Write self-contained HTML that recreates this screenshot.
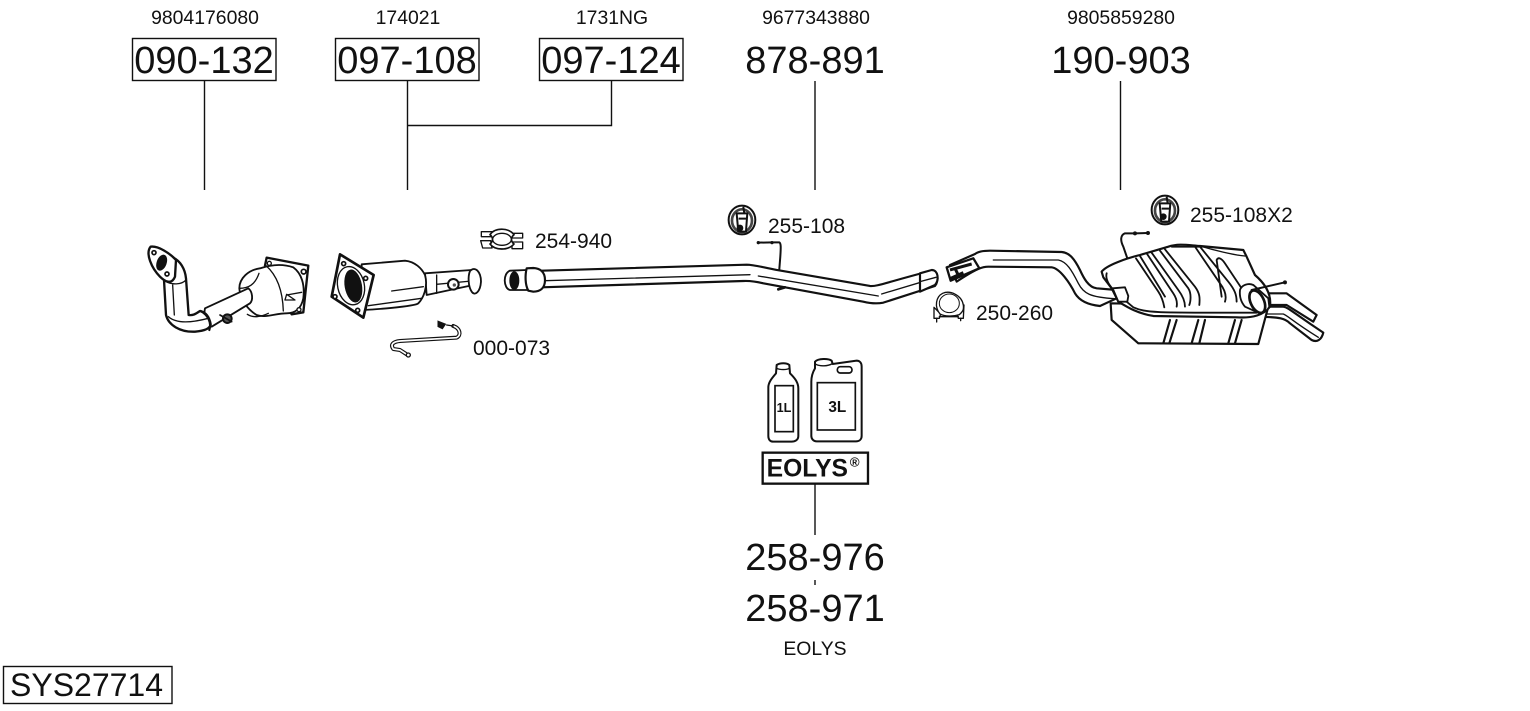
<!DOCTYPE html>
<html><head><meta charset="utf-8"><style>
html,body{margin:0;padding:0;background:#fff}
svg{display:block}
text{font-family:"Liberation Sans",sans-serif;fill:#111}
.b{font-size:38px;text-anchor:middle}
.s{font-size:19.4px;text-anchor:middle}
.m{font-size:21px}
.d{fill:none;stroke:#111;stroke-linecap:round;stroke-linejoin:round}
.f{fill:#fff;stroke:#111;stroke-linecap:round;stroke-linejoin:round}
</style></head><body>
<svg width="1530" height="711" viewBox="0 0 1530 711" xmlns="http://www.w3.org/2000/svg">
<rect width="1530" height="711" fill="#fff"/>
<g fill="none" stroke="#111" stroke-width="1.4">
<rect x="132.500" y="38.500" width="143.500" height="42"/>
<rect x="335.500" y="38.500" width="143.500" height="42"/>
<rect x="539.500" y="38.500" width="143.500" height="42"/>
<rect x="3.500" y="666.500" width="168.500" height="37"/>
<path d="M204.500 80V190M407.500 80V190M407.500 125.500H611.500V80M815 81V190M1120.500 81V190M815 484V535M815 580V585"/>
</g>
<text class="s" x="205" y="24">9804176080</text>
<text class="s" x="408" y="24">174021</text>
<text class="s" x="612" y="24">1731NG</text>
<text class="s" x="816" y="24">9677343880</text>
<text class="s" x="1121" y="24">9805859280</text>
<text class="b" x="204" y="73">090-132</text>
<text class="b" x="407" y="73">097-108</text>
<text class="b" x="611" y="73">097-124</text>
<text class="b" x="815" y="73">878-891</text>
<text class="b" x="1121" y="73">190-903</text>
<text class="b" x="815" y="570">258-976</text>
<text class="b" x="815" y="621">258-971</text>
<text class="s" x="815" y="655">EOLYS</text>
<text class="m" x="535" y="248">254-940</text>
<text class="m" x="768" y="233">255-108</text>
<text class="m" x="1190" y="222">255-108X2</text>
<text class="m" x="976" y="320">250-260</text>
<text class="m" x="473" y="355">000-073</text>
<text x="10" y="696" style="font-size:32px">SYS27714</text>

<!-- front pipe + cat 1 -->
<g transform="translate(140,235) scale(.3333)">
<path class="f" stroke-width="7" d="M375 92L380 68L505 92L490 232L455 238L400 130Z"/>
<path class="f" stroke-width="5.500" d="M360 100C325 105 298 130 298 160C300 195 325 225 350 240C375 250 405 235 440 235C470 235 485 215 490 190C495 150 485 115 460 97C425 85 390 90 360 100Z"/>
<path class="d" stroke-width="4" d="M378 92C410 120 428 165 430 228M298 160C325 160 345 150 357 115M440 180L485 172M435 195L465 195L440 178Z"/>
<path class="f" stroke-width="5.500" d="M195 220L325 160C338 170 340 195 330 205L215 275C200 265 190 240 195 220Z"/>
<path class="d" stroke-width="4" d="M322 238C340 250 365 245 385 235"/>
<path class="f" stroke-width="7" d="M72 135L78 240C85 270 120 292 165 290C190 288 210 282 212 268C208 245 198 232 180 228C165 238 158 242 146 240L138 130C135 100 120 78 100 68Z"/>
<path class="d" stroke-width="4" d="M85 245C110 268 160 262 205 250M98 150L103 240M75 138C95 150 125 150 138 135"/>
<path class="f" stroke-width="7" d="M32 35C55 32 90 55 108 75L105 125C95 150 75 140 60 125C35 100 15 55 32 35Z"/>
<ellipse cx="65" cy="83" rx="15" ry="25" transform="rotate(20 65 83)" fill="#111"/>
<circle cx="42" cy="53" r="6" fill="#fff" stroke="#111" stroke-width="5"/>
<circle cx="81" cy="117" r="6" fill="#fff" stroke="#111" stroke-width="5"/>
<circle cx="491" cy="110" r="7" fill="#fff" stroke="#111" stroke-width="5"/>
<circle cx="388" cy="85" r="6" fill="#fff" stroke="#111" stroke-width="4"/>
<circle cx="477" cy="224" r="6" fill="#fff" stroke="#111" stroke-width="4"/>
<path class="d" stroke-width="6.500" d="M182 228C205 240 215 265 208 285"/>
<circle cx="262" cy="251" r="13" fill="#555" stroke="#111" stroke-width="6"/>
<path class="d" stroke-width="5" d="M240 240L275 260"/>
</g>

<!-- cat 2 + sensor -->
<g transform="translate(325,245) scale(.3333)">
<path class="f" stroke-width="5.500" d="M300 85L440 75L445 120L305 150Z"/>
<path class="d" stroke-width="4" d="M335 90L335 145M335 118L440 108"/>
<path class="f" stroke-width="5.500" d="M435 78C450 62 468 80 468 110C466 140 450 155 440 140C430 125 428 95 435 78Z"/>
<circle cx="385" cy="118" r="16" fill="#fff" stroke="#111" stroke-width="6"/>
<circle cx="388" cy="120" r="5" fill="#555"/>
<path class="f" stroke-width="5.500" d="M110 58L240 47C270 50 290 70 300 90C310 125 295 160 280 175C270 185 130 195 110 195Z"/>
<path class="d" stroke-width="4" d="M130 182L290 160M200 138L295 125"/>
<path class="f" stroke-width="8" d="M45 28L146 90L115 218L20 155Z"/>
<ellipse cx="78" cy="122" rx="40" ry="58" transform="rotate(-12 78 122)" fill="#fff" stroke="#111" stroke-width="4"/>
<ellipse cx="85" cy="123" rx="26" ry="50" transform="rotate(-10 85 123)" fill="#111"/>
<circle cx="56" cy="56" r="6" fill="#fff" stroke="#111" stroke-width="5"/>
<circle cx="122" cy="100" r="6" fill="#fff" stroke="#111" stroke-width="5"/>
<circle cx="30" cy="155" r="6" fill="#fff" stroke="#111" stroke-width="5"/>
<circle cx="98" cy="196" r="6" fill="#fff" stroke="#111" stroke-width="5"/>
<path class="d" stroke-width="12" d="M245 328L225 315L205 312C195 298 205 290 225 288L395 278C410 270 405 250 385 243"/>
<path class="d" stroke-width="5" d="M245 328L225 315L205 312C195 298 205 290 225 288L395 278C410 270 405 250 385 243" style="stroke:#fff"/>
<path d="M340 230L360 238L352 250L340 244Z" fill="#111" stroke="#111" stroke-width="5"/>
<path class="d" stroke-width="4" d="M365 240L385 243"/>
<circle cx="250" cy="330" r="6" fill="#fff" stroke="#111" stroke-width="4"/>
</g>

<!-- mid pipe, clamps -->
<g transform="translate(470,200) scale(.3333)">
<path class="f" stroke-width="6.500" d="M215 212L830 194C850 194 870 200 920 210L1200 258C1220 260 1240 250 1380 213C1400 215 1408 245 1395 258L1240 308C1220 312 1200 310 1180 305L880 250C860 245 840 242 820 243L215 262Z"/>
<path class="d" stroke-width="4" d="M225 242L840 224M865 228L1225 288M1235 282L1392 235"/>
<path class="f" stroke-width="5.500" d="M120 212L170 210L175 270L120 270C100 265 98 220 120 212Z"/>
<ellipse cx="133" cy="242" rx="15" ry="28" fill="#111"/>
<path class="f" stroke-width="6.500" d="M170 205L190 204C210 205 225 215 225 240C225 265 210 275 190 275L175 272C165 255 165 225 170 205Z"/>
<path class="d" stroke-width="6" d="M864 128L908 127H928C933 130 933 140 931 170L928 208"/>
<circle cx="865" cy="128" r="5" fill="#111"/><circle cx="906" cy="128" r="5" fill="#111"/>
<path class="d" stroke-width="8" d="M925 268L945 262"/>
<!-- clamp 254-940 -->
<path class="f" stroke-width="4" d="M34 95H66L62 110H34ZM32 122H62L66 144H38ZM126 100H158V114H126ZM126 126H158V146H126Z"/>
<path d="M60 104C75 82 115 82 132 104C122 112 122 124 132 132C115 152 75 152 60 132C70 124 70 112 60 104Z" fill="#fff" stroke="#111" stroke-width="5" stroke-linejoin="round"/>
<ellipse cx="96" cy="118" rx="28" ry="18" fill="#fff" stroke="#111" stroke-width="4"/>
<!-- bracket 255-108 -->
<ellipse cx="816" cy="60" rx="40" ry="43" fill="#fff" stroke="#111" stroke-width="6"/>
<ellipse cx="816" cy="62" rx="30" ry="34" fill="none" stroke="#444" stroke-width="8"/>
<path class="f" stroke-width="6" d="M800 40L805 95H828L832 40Z"/>
<circle cx="810" cy="84" r="10" fill="#111"/>
<path d="M820 20l3 20M806 56h22" stroke="#111" stroke-width="6" fill="none"/>
</g>

<!-- muffler group -->
<g transform="translate(920,190) scale(.3333)">
<path class="f" stroke-width="6.500" d="M0 250L35 240C55 240 58 270 45 285L0 305Z"/>
<path class="d" stroke-width="4" d="M0 275L48 262"/>
<path class="f" stroke-width="6.500" d="M1045 310L1100 310L1190 375L1180 395L1100 345L1045 345Z"/>
<path class="f" stroke-width="6.500" d="M1020 350L1090 350C1105 352 1115 365 1210 428C1205 450 1190 458 1175 450L1110 400C1095 385 1080 382 1020 380Z"/>
<path class="d" stroke-width="4" d="M1040 372L1090 372C1105 378 1115 392 1195 442"/>
<path class="f" stroke-width="6.500" d="M90 225L165 192C175 184 190 182 210 182L425 186C450 188 465 210 480 240C490 262 505 292 530 295L590 300L590 325L540 348C510 345 480 335 465 310C450 280 420 235 395 232L205 230C190 230 175 232 110 275Z"/>
<path class="d" stroke-width="4" d="M220 210L415 210C440 215 455 240 475 280C490 310 510 322 585 326"/>
<path d="M80 232L160 205L178 235L92 272Z" fill="#fff" stroke="#111" stroke-width="7" stroke-linejoin="round"/>
<path d="M90 240L155 222M105 235L118 262M92 265L130 248" stroke="#111" stroke-width="9" fill="none"/>
<path class="f" stroke-width="6.500" d="M572 340L575 390L655 460L1015 462L1045 350Z"/>
<path class="d" stroke-width="6.500" d="M750 390L730 460M770 390L748 460M835 390L815 460M855 390L838 460M945 390L925 460M965 390L945 460"/>
<path class="f" stroke-width="6.500" d="M550 262L545 245C560 225 620 205 660 195L745 170C775 160 800 165 840 168L970 180L980 200L1005 255C1040 285 1055 315 1050 350C1030 375 1000 385 950 382L700 378C650 370 620 350 595 335L575 295Z"/>
<path class="d" stroke-width="5.500" d="M560 250C555 270 570 290 590 310L640 352C680 370 720 368 1010 368"/>
<path class="f" stroke-width="5.500" d="M578 295L615 292L625 318L622 335L595 335Z"/>
<path class="d" stroke-width="5.500" d="M648 205L715 305C725 320 730 335 733 352M660 198L735 320M680 190L760 310C770 325 772 340 770 350M695 188L775 300C790 320 795 335 795 350M720 182L805 295C815 310 812 335 808 345M735 178L825 290C840 310 840 325 838 345M755 170L860 170M825 170L900 280C915 300 920 320 915 335M840 170L925 275C945 300 950 315 950 335M890 210L905 320M890 210C895 200 905 205 915 220L965 295"/>
<path class="d" stroke-width="4" d="M840 168C880 180 940 195 975 198"/>
<path class="f" stroke-width="5.500" d="M960 300C965 285 985 278 1000 285L1045 325L1048 350C1040 365 1030 370 1015 368L975 350C962 335 958 320 960 300Z"/>
<ellipse cx="1012" cy="335" rx="20" ry="36" transform="rotate(-25 1012 335)" fill="none" stroke="#111" stroke-width="8"/>
<path class="d" stroke-width="6" d="M995 300L1095 277"/>
<circle cx="1095" cy="277" r="6" fill="#111"/>
<path class="d" stroke-width="6" d="M684 129L645 130H615C602 135 600 150 610 170L622 205"/>
<circle cx="684" cy="129" r="6" fill="#111"/><circle cx="645" cy="130" r="6" fill="#111"/>
<!-- clamp 250-260 -->
<path class="f" stroke-width="4" d="M42 352L62 372L58 385H42ZM132 345L130 385H115L112 372Z"/>
<path class="f" stroke-width="4" d="M60 372C42 350 48 320 68 310C90 300 125 315 130 345C132 360 128 365 118 374C100 380 75 380 60 372Z"/>
<ellipse cx="88" cy="340" rx="30" ry="28" fill="#fff" stroke="#111" stroke-width="3"/>
<path class="d" stroke-width="4" d="M50 385V396M122 385V392M58 380H115"/>
<!-- bracket -->
<ellipse cx="735" cy="60" rx="40" ry="43" fill="#fff" stroke="#111" stroke-width="6"/>
<ellipse cx="735" cy="62" rx="30" ry="34" fill="none" stroke="#444" stroke-width="8"/>
<path class="f" stroke-width="6" d="M719 40L724 95H747L751 40Z"/>
<circle cx="730" cy="80" r="10" fill="#111"/>
<path d="M740 20l3 20M725 56h22" stroke="#111" stroke-width="6" fill="none"/>
</g>

<!-- bottles -->
<g transform="translate(750,350) scale(.3333)">
<path class="f" stroke-width="6" d="M80 45C90 38 110 38 118 45L120 70C130 80 145 95 145 115V258C145 270 135 275 125 275H70C60 275 55 268 55 258V112C55 95 70 80 78 70Z"/>
<path class="d" stroke-width="4" d="M80 55C90 60 110 60 118 55"/>
<rect x="75" y="107" width="55" height="138" fill="none" stroke="#111" stroke-width="5"/>
<text x="102" y="186" style="font-size:38px;font-weight:bold;text-anchor:middle">1L</text>
<path class="f" stroke-width="6" d="M195 35C205 25 235 25 245 32L248 42L320 32C330 32 335 40 335 50V258C335 268 328 274 318 274H200C190 274 184 266 184 258V95C184 75 192 60 195 55Z"/>
<path class="d" stroke-width="4" d="M198 43C210 50 235 48 245 42"/>
<rect x="262" y="50" width="44" height="19" rx="9" fill="none" stroke="#111" stroke-width="5"/>
<rect x="202" y="98" width="114" height="142" fill="none" stroke="#111" stroke-width="5"/>
<text x="262" y="186" style="font-size:46px;font-weight:bold;text-anchor:middle">3L</text>
<rect x="38" y="308" width="316" height="93" fill="none" stroke="#111" stroke-width="7"/>
<text x="172" y="380" style="font-size:74px;font-weight:bold;text-anchor:middle">EOLYS</text>
<text x="314" y="350" style="font-size:40px;font-weight:bold;text-anchor:middle">®</text>
</g>
</svg>
</body></html>
